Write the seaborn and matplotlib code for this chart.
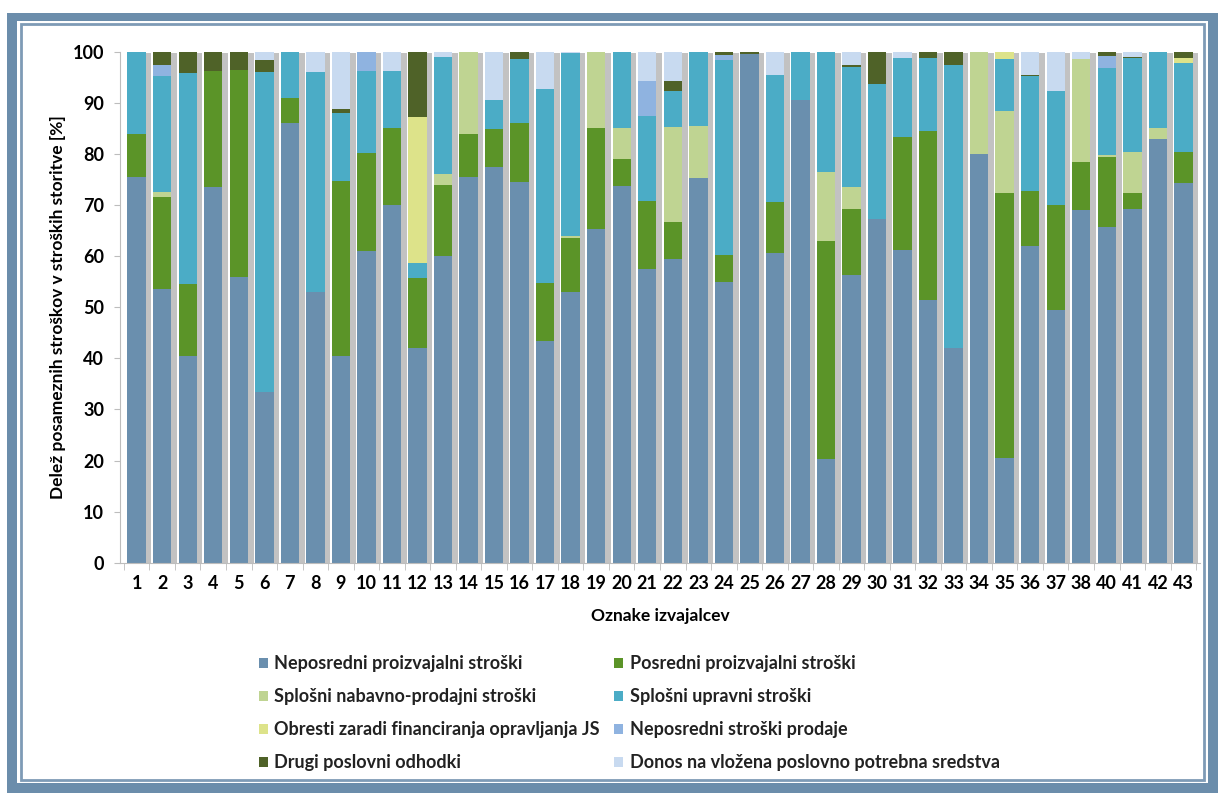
import numpy as np
import pandas as pd
import matplotlib
matplotlib.use('Agg')
import matplotlib.pyplot as plt
import matplotlib.patheffects as pe
from matplotlib.patches import Rectangle, Patch
import seaborn as sns

# oznake izvajalcev (39 manjka)
labels = [str(i) for i in range(1, 39)] + ['40', '41', '42', '43']

series_names = [
    'Neposredni proizvajalni stroški',
    'Posredni proizvajalni stroški',
    'Splošni nabavno-prodajni stroški',
    'Splošni upravni stroški',
    'Obresti zaradi financiranja opravljanja JS',
    'Neposredni stroški prodaje',
    'Drugi poslovni odhodki',
    'Donos na vložena poslovno potrebna sredstva',
]
colors = ['#6a8fae', '#5b9428', '#bfd492', '#4bacc6', '#dde38a', '#8fb3e0', '#4f6228', '#c8daf0']

neposredni = [75.5, 53.5, 40.5, 73.5, 56.0, 33.5, 86.0, 53.0, 40.5, 61.0, 70.0, 42.0, 60.0, 75.5,
              77.5, 74.5, 43.3, 53.0, 65.3, 73.8, 57.5, 59.5, 75.3, 55.0, 99.5, 60.7, 90.5, 20.3,
              56.3, 67.3, 61.3, 51.5, 42.0, 80.0, 20.5, 62.0, 49.5, 69.0, 65.7, 69.3, 83.0, 74.3]
posredni = [8.5, 18.0, 14.0, 22.8, 40.5, 0.0, 5.0, 0.0, 34.3, 19.2, 15.0, 13.7, 14.0, 8.5,
            7.3, 11.5, 11.5, 10.5, 19.7, 5.2, 13.3, 7.2, 0.0, 5.3, 0.0, 9.8, 0.0, 42.7,
            13.0, 0.0, 22.0, 33.0, 0.0, 0.0, 51.8, 10.7, 20.5, 9.4, 13.7, 3.0, 0.0, 6.0]
nabavno = [0.0, 1.0, 0.0, 0.0, 0.0, 0.0, 0.0, 0.0, 0.0, 0.0, 0.0, 0.0, 2.0, 16.0,
           0.0, 0.0, 0.0, 0.5, 15.0, 6.0, 0.0, 18.6, 10.2, 0.0, 0.0, 0.0, 0.0, 13.5,
           4.2, 0.0, 0.0, 0.0, 0.0, 20.0, 16.2, 0.0, 0.0, 20.1, 0.3, 8.0, 2.0, 0.0]
upravni = [16.0, 22.8, 41.3, 0.0, 0.0, 62.5, 9.0, 43.0, 13.2, 16.1, 11.2, 3.0, 23.0, 0.0,
           5.7, 12.5, 38.0, 35.8, 0.0, 15.0, 16.7, 7.0, 14.5, 38.0, 0.0, 25.0, 9.5, 23.5,
           23.5, 26.4, 15.4, 14.3, 55.5, 0.0, 10.0, 22.6, 22.3, 0.0, 17.1, 18.4, 15.0, 17.5]
obresti = [0.0, 0.0, 0.0, 0.0, 0.0, 0.0, 0.0, 0.0, 0.0, 0.0, 0.0, 28.6, 0.0, 0.0,
           0.0, 0.0, 0.0, 0.0, 0.0, 0.0, 0.0, 0.0, 0.0, 0.0, 0.0, 0.0, 0.0, 0.0,
           0.0, 0.0, 0.0, 0.0, 0.0, 0.0, 1.5, 0.0, 0.0, 0.0, 0.0, 0.0, 0.0, 1.0]
prodaja = [0.0, 2.2, 0.0, 0.0, 0.0, 0.0, 0.0, 0.0, 0.0, 3.7, 0.0, 0.0, 0.0, 0.0,
           0.0, 0.0, 0.0, 0.0, 0.0, 0.0, 6.7, 0.0, 0.0, 1.0, 0.0, 0.0, 0.0, 0.0,
           0.0, 0.0, 0.0, 0.0, 0.0, 0.0, 0.0, 0.0, 0.0, 0.0, 2.4, 0.0, 0.0, 0.0]
drugi = [0.0, 2.5, 4.2, 3.7, 3.5, 2.3, 0.0, 0.0, 0.7, 0.0, 0.0, 12.7, 0.0, 0.0,
         0.0, 1.5, 0.0, 0.0, 0.0, 0.0, 0.0, 2.0, 0.0, 0.7, 0.5, 0.0, 0.0, 0.0,
         0.5, 6.3, 0.0, 1.2, 2.5, 0.0, 0.0, 0.2, 0.0, 0.0, 0.8, 0.2, 0.0, 1.2]
donos = [0.0, 0.0, 0.0, 0.0, 0.0, 1.7, 0.0, 4.0, 11.3, 0.0, 3.8, 0.0, 1.0, 0.0,
         9.5, 0.0, 7.2, 0.2, 0.0, 0.0, 5.8, 5.7, 0.0, 0.0, 0.0, 4.5, 0.0, 0.0,
         2.5, 0.0, 1.3, 0.0, 0.0, 0.0, 0.0, 4.5, 7.7, 1.5, 0.0, 1.1, 0.0, 0.0]

df = pd.DataFrame({'oznaka': labels})
for name, vals in zip(series_names, [neposredni, posredni, nabavno, upravni, obresti, prodaja, drugi, donos]):
    df[name] = vals
cum = df[series_names].cumsum(axis=1)

plt.rcParams['font.family'] = ['Lato', 'DejaVu Sans']
fig = plt.figure(figsize=(12.2, 7.96), dpi=100)
fig.patch.set_facecolor('white')

# okvir
fig.add_artist(Rectangle((0.006, 0.004), 0.992, 0.98, transform=fig.transFigure,
                         facecolor='#6b8dab', edgecolor='none', zorder=-5))
fig.add_artist(Rectangle((0.014, 0.016), 0.976, 0.957, transform=fig.transFigure,
                         facecolor='white', edgecolor='none', zorder=-4))
fig.add_artist(Rectangle((0.017, 0.02), 0.970, 0.950, transform=fig.transFigure,
                         facecolor='none', edgecolor='#7e9bb6', linewidth=2, zorder=-3))

ax = fig.add_axes([0.098, 0.293, 0.886, 0.642])
ax.set_facecolor('none')

# od najvišje kumulative navzdol
for i in range(len(series_names) - 1, -1, -1):
    name = series_names[i]
    sns.barplot(x=df['oznaka'], y=cum[name], color=colors[i], width=0.72,
                saturation=1, ax=ax, order=labels, zorder=2)
    if i == len(series_names) - 1:
        for p in ax.patches:
            p.set_path_effects([pe.SimplePatchShadow(offset=(4, -1), shadow_rgbFace='#9a9a9a', alpha=0.6),
                                pe.Normal()])

ax.set_ylim(0, 100)
ax.set_xlim(-0.67, len(labels) - 0.33)
ax.set_yticks(range(0, 101, 10))
for s in ['top', 'right']:
    ax.spines[s].set_visible(False)
ax.spines['left'].set_color('#bdbdbd')
ax.spines['bottom'].set_color('#bdbdbd')
ax.set_xticks(np.arange(len(labels)))
ax.set_xticklabels(labels)
ax.set_xticks(np.arange(len(labels) + 1) - 0.5, minor=True)
ax.tick_params(axis='x', which='major', length=0, pad=9, labelsize=13)
ax.tick_params(axis='x', which='minor', length=5, color='#bdbdbd')
ax.tick_params(axis='y', length=4, color='#bdbdbd', labelsize=13, pad=7)
for t in ax.get_xticklabels() + ax.get_yticklabels():
    t.set_fontweight('bold')
ax.set_xlabel('Oznake izvajalcev', fontsize=12.5, fontweight='bold', labelpad=11)
ax.set_ylabel('Delež posameznih stroškov v stroških storitve [%]', fontsize=12.5, fontweight='bold', labelpad=5)

handles = [Patch(facecolor=c, edgecolor='none') for c in colors]
order = [0, 2, 4, 6, 1, 3, 5, 7]
leg = fig.legend([handles[k] for k in order], [series_names[k] for k in order],
                 ncol=2, loc='upper left', bbox_to_anchor=(0.199, 0.197), frameon=False,
                 fontsize=13, handlelength=0.5, handleheight=0.5, handletextpad=0.35,
                 columnspacing=0.8, labelspacing=0.88)
for t in leg.get_texts():
    t.set_fontweight('bold')
    t.set_color('#222222')

plt.savefig('out.png', dpi=100)
plt.close()
